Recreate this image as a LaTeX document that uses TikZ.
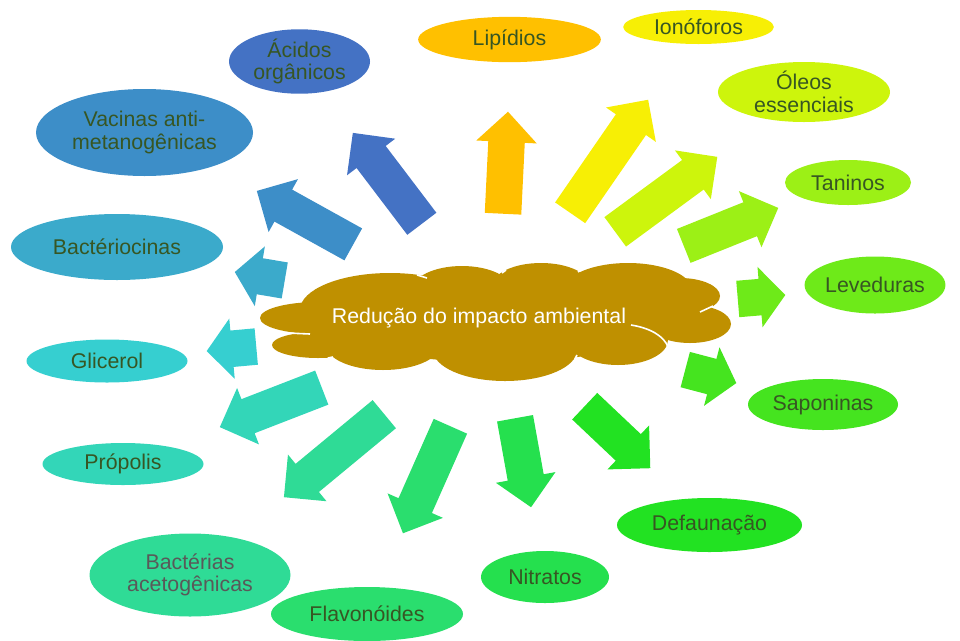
\documentclass[tikz,border=0pt]{standalone}
\usepackage{fontspec}
\setmainfont{Liberation Sans}
\usepackage{xcolor}
\usepackage{tikz}
\usetikzlibrary{positioning,shapes.geometric,shapes.arrows}

\definecolor{mHub}{HTML}{BF9000}
\definecolor{mLeafText}{HTML}{375623}
\definecolor{mGreyText}{HTML}{595959}
\definecolor{mAcidos}{HTML}{4472C4}
\definecolor{mLipid}{HTML}{FFC000}
\definecolor{mIono}{HTML}{F7EF05}
\definecolor{mOleos}{HTML}{CDF50C}
\definecolor{mTanin}{HTML}{9CF016}
\definecolor{mLeved}{HTML}{6EEA19}
\definecolor{mSapon}{HTML}{45E41F}
\definecolor{mDefaun}{HTML}{22E222}
\definecolor{mNitrat}{HTML}{25E04E}
\definecolor{mFlavon}{HTML}{2ADE6E}
\definecolor{mAcetog}{HTML}{2FDB96}
\definecolor{mPropol}{HTML}{33D6B8}
\definecolor{mGlicer}{HTML}{36CFD0}
\definecolor{mBacter}{HTML}{3BAACB}
\definecolor{mVacina}{HTML}{3D8EC8}

\begin{document}
\begin{tikzpicture}[x=0.75pt, y=-0.75pt, font=\fontsize{16}{17}\selectfont,
  leaf/.style={ellipse, inner sep=0pt, align=center, text=mLeafText},
  blk/.style={single arrow, anchor=tail, inner xsep=0pt, inner ysep=13.5pt, minimum width=45pt, single arrow head extend=9pt, single arrow tip angle=90},
  blkshort/.style={blk, single arrow tip angle=100},
  puffline/.style={white, line width=1.2pt}]
\useasboundingbox (0,0) rectangle (960,640);

% central cloud, puffs as overlapping ellipses
\fill[mHub] (495,322) ellipse (170 and 40)
  (390,310) ellipse (90 and 37)  (462,290) ellipse (50 and 24)
  (541,285) ellipse (48 and 22)  (628,290) ellipse (64 and 27)
  (680,296) ellipse (40 and 18)  (690,324) ellipse (41 and 19)
  (618,340) ellipse (50 and 25)  (505,350) ellipse (72 and 31)
  (383,345) ellipse (57 and 25)  (318,345) ellipse (46 and 13)
  (318,318) ellipse (58 and 16);
% inner puff edges
\draw[puffline] (631,325) .. controls (650,328) and (664,336) .. (668,347);
\draw[puffline] (700,312) -- (713,306);
\draw[puffline] (287,333) -- (310,334);
\draw[puffline] (417,275) -- (427,278);
\draw[puffline] (502,273) -- (506,270);
\draw[puffline] (578,272) -- (582,269);
\draw[puffline] (433,364) -- (437,367);
\draw[puffline] (575,359) -- (577,355);
\draw[puffline] (328,358) -- (333,357);
\node[text=white] (hub) at (479,318) {Redução do impacto ambiental};

% block arrows, tail first
\node[blk, fill=mAcidos, minimum height=85.6pt, rotate=127.2] (arrAcidos) at (422,224) {};
\node[blk, fill=mLipid, minimum height=76.6pt, rotate=87.2] (arrLipid) at (503,214) {};
\node[blk, fill=mIono, minimum height=103pt, rotate=55.4] (arrIono) at (570,213) {};
\node[blk, fill=mOleos, minimum height=95pt, rotate=36.3] (arrOleos) at (615,232) {};
\node[blk, fill=mTanin, minimum height=76.4pt, rotate=21.9] (arrTanin) at (683.5,246) {};
\node[blkshort, fill=mLeved, minimum height=35.8pt, rotate=4.8] (arrLeved) at (737.5,299) {};
\node[blkshort, fill=mSapon, minimum height=39.6pt, rotate=-14.8] (arrSapon) at (685,369.5) {};
\node[blk, fill=mDefaun, minimum height=67.7pt, rotate=-43.4] (arrDefaun) at (584.5,406) {};
\node[blk, fill=mNitrat, minimum height=67.8pt, rotate=-79.8] (arrNitrat) at (515,418) {};
\node[blk, fill=mFlavon, minimum height=87.8pt, rotate=-113.9] (arrFlavon) at (450.5,426) {};
\node[blk, fill=mAcetog, minimum height=97.7pt, rotate=-140.4] (arrAcetog) at (384.5,414) {};
\node[blk, fill=mPropol, minimum height=82pt, rotate=-158.8] (arrPropol) at (322,387.5) {};
\node[blkshort, fill=mGlicer, minimum height=37.3pt, rotate=-174.8] (arrGlicer) at (256.5,346.5) {};
\node[blkshort, fill=mBacter, minimum height=38pt, rotate=170.4] (arrBacter) at (285,280.5) {};
\node[blk, fill=mVacina, minimum height=82.7pt, rotate=151.0] (arrVacina) at (353.5,244.5) {};

% outer ellipses
\node[leaf, fill=mAcidos, minimum width=105.75pt, minimum height=44.25pt] (acidos) at (299.5,61.5) {Ácidos\\orgânicos};
\node[leaf, fill=mLipid, minimum width=137pt, minimum height=34pt] (lipid) at (509.5,39.5) {Lipídios};
\node[leaf, fill=mIono, minimum width=113pt, minimum height=25.5pt] (iono) at (698.5,27) {Ionóforos};
\node[leaf, fill=mOleos, minimum width=129pt, minimum height=45pt] (oleos) at (804,92) {Óleos\\essenciais};
\node[leaf, fill=mTanin, minimum width=94.5pt, minimum height=33.75pt] (tanin) at (848,182.5) {Taninos};
\node[leaf, fill=mLeved, minimum width=102pt, minimum height=42.75pt] (leved) at (875,285) {Leveduras};
\node[leaf, fill=mSapon, minimum width=112.5pt, minimum height=38.25pt] (sapon) at (823,404.5) {Saponinas};
\node[leaf, fill=mDefaun, minimum width=138.75pt, minimum height=40.5pt] (defaun) at (709.5,525) {Defaunação};
\node[leaf, fill=mNitrat, minimum width=96pt, minimum height=39pt] (nitrat) at (545,577) {Nitratos};
\node[leaf, fill=mFlavon, minimum width=144pt, minimum height=40.5pt] (flavon) at (367,614) {Flavonóides};
\node[leaf, fill=mAcetog, text=mGreyText, minimum width=150.75pt, minimum height=62.25pt] (acetog) at (190,575) {Bactérias\\acetogênicas};
\node[leaf, fill=mPropol, minimum width=120.75pt, minimum height=31.5pt] (propol) at (123,464) {Própolis};
\node[leaf, fill=mGlicer, minimum width=120.75pt, minimum height=32.25pt] (glicer) at (107,361) {Glicerol};
\node[leaf, fill=mBacter, minimum width=159pt, minimum height=49.5pt] (bacter) at (117,247) {Bactériocinas};
\node[leaf, fill=mVacina, minimum width=162.75pt, minimum height=65.25pt] (vacina) at (144.5,132.5) {Vacinas anti-\\metanogênicas};
\end{tikzpicture}
\end{document}
